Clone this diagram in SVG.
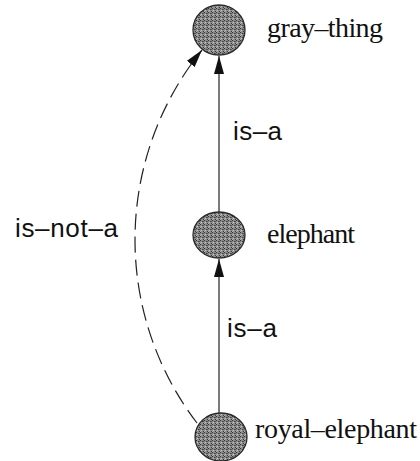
<svg xmlns="http://www.w3.org/2000/svg" width="420" height="461" viewBox="0 0 420 461">
  <style>
    .node { fill: url(#stipple); stroke: #2a2a2a; stroke-width: 1.3; }
    .lbl { font-family: "Liberation Serif", "Times New Roman", serif; font-size: 28px; fill: #111; }
    .elbl { font-family: "Liberation Sans", Arial, sans-serif; font-size: 26px; fill: #111; }
    .edge { fill: none; stroke: #222; stroke-width: 1.2; }
    .dashed { stroke-dasharray: 16 7; }
  </style>
  <defs>
    <pattern id="stipple" width="4" height="4" patternUnits="userSpaceOnUse">
      <rect width="4" height="4" fill="#8c8c8c"/>
      <rect x="0" y="0" width="1" height="1" fill="#333"/>
      <rect x="2" y="1" width="1" height="1" fill="#404040"/>
      <rect x="1" y="2" width="1" height="1" fill="#c8c8c8"/>
      <rect x="3" y="3" width="1" height="1" fill="#3a3a3a"/>
      <rect x="3" y="1" width="1" height="1" fill="#5a5a5a"/>
      <rect x="0" y="3" width="1" height="1" fill="#b0b0b0"/>
    </pattern>
    <marker id="arrow" markerUnits="userSpaceOnUse" markerWidth="18" markerHeight="10" refX="18" refY="5" orient="auto">
      <path d="M0,0 L18,5 L0,10 z" fill="#111"/>
    </marker>
  </defs>

  <g id="connectors">
    <line class="edge" x1="219" y1="212" x2="219" y2="56" marker-end="url(#arrow)"/>
    <line class="edge" x1="219" y1="413" x2="219" y2="259" marker-end="url(#arrow)"/>
    <path class="edge dashed" d="M197,423 A302,302 0 0 1 202,50" marker-end="url(#arrow)"/>
    <text class="elbl" x="233" y="140" textLength="49">is–a</text>
    <text class="elbl" x="227" y="337" textLength="50">is–a</text>
    <text class="elbl" x="15" y="237" textLength="103">is–not–a</text>
  </g>

  <g id="gray-thing">
    <ellipse class="node" cx="219" cy="30" rx="26" ry="25"/>
    <text class="lbl" x="267" y="37" textLength="116">gray–thing</text>
  </g>
  <g id="elephant">
    <ellipse class="node" cx="219" cy="235" rx="26" ry="23"/>
    <text class="lbl" x="267" y="243" textLength="88">elephant</text>
  </g>
  <g id="royal-elephant">
    <ellipse class="node" cx="221" cy="437" rx="26" ry="24"/>
    <text class="lbl" x="255" y="438" textLength="162">royal–elephant</text>
  </g>
</svg>
